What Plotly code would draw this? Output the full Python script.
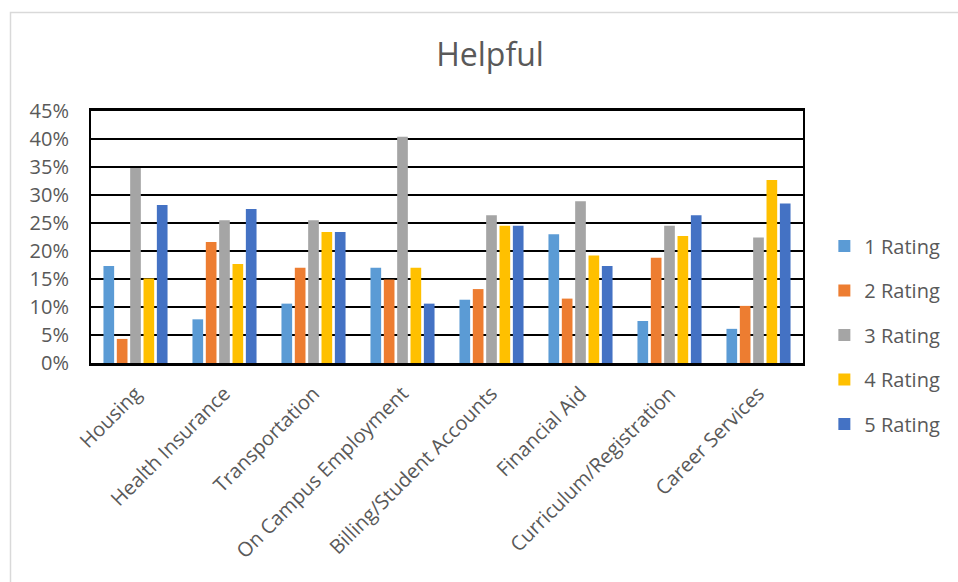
import plotly.graph_objects as go

# Survey categories and the share of responses for each rating (fractions)
categories = [
    "Housing",
    "Health Insurance",
    "Transportation",
    "On Campus Employment",
    "Billing/Student Accounts",
    "Financial Aid",
    "Curriculum/Registration",
    "Career Services",
]
rating_1 = [0.173, 0.078, 0.106, 0.170, 0.113, 0.230, 0.075, 0.061]
rating_2 = [0.043, 0.216, 0.170, 0.149, 0.132, 0.115, 0.188, 0.102]
rating_3 = [0.348, 0.255, 0.255, 0.404, 0.264, 0.289, 0.245, 0.224]
rating_4 = [0.151, 0.177, 0.234, 0.170, 0.245, 0.192, 0.227, 0.327]
rating_5 = [0.282, 0.275, 0.234, 0.106, 0.245, 0.173, 0.264, 0.285]

series_names = ["1 Rating", "2 Rating", "3 Rating", "4 Rating", "5 Rating"]
series_values = [rating_1, rating_2, rating_3, rating_4, rating_5]
series_colors = ["#5B9BD5", "#ED7D31", "#A5A5A5", "#FFC000", "#4472C4"]

FONT = "Open Sans, Segoe UI, DejaVu Sans, sans-serif"
TEXT = "#595959"

fig = go.Figure()
for name, vals, color in zip(series_names, series_values, series_colors):
    fig.add_trace(
        go.Bar(
            name=name,
            x=categories,
            y=vals,
            marker=dict(color=color, line=dict(width=0)),
            legendgroup=name,
        )
    )

fig.update_layout(
    width=958,
    height=582,
    barmode="group",
    bargap=0.25,
    bargroupgap=0.2,
    paper_bgcolor="white",
    plot_bgcolor="white",
    margin=dict(l=91, r=155, t=111, b=219, autoexpand=False),
    font=dict(family=FONT, color=TEXT),
    title=dict(
        text="Helpful",
        x=490 / 958,
        xanchor="center",
        xref="container",
        y=1 - 55 / 582,
        yanchor="middle",
        font=dict(family=FONT, size=32, color=TEXT),
    ),
    legend=dict(
        x=1.03,
        xanchor="left",
        y=0.111,
        yanchor="middle",
        font=dict(family=FONT, size=20, color=TEXT),
        traceorder="grouped",
        tracegroupgap=15.5,
        bgcolor="rgba(0,0,0,0)",
    ),
    showlegend=True,
)

fig.update_yaxes(
    range=[0, 0.45],
    dtick=0.05,
    tickformat=".0%",
    showgrid=True,
    gridcolor="black",
    gridwidth=2,
    showline=True,
    linecolor="black",
    linewidth=2,
    mirror=True,
    zeroline=False,
    ticks="",
    ticklabelstandoff=16,
    tickfont=dict(family=FONT, size=20, color=TEXT),
)
fig.update_xaxes(
    tickangle=-45,
    showline=True,
    linecolor="black",
    linewidth=3,
    mirror=True,
    ticks="",
    ticklabelstandoff=8,
    tickfont=dict(family=FONT, size=20, color=TEXT),
)

# light outer frame of the chart area
fig.add_shape(
    type="rect",
    xref="paper",
    yref="paper",
    x0=(10.5 - 91) / 712,
    x1=2.0,
    y0=-2.0,
    y1=(363 - 12.5) / 252,
    line=dict(color="#D9D9D9", width=1.5),
    fillcolor="rgba(0,0,0,0)",
    layer="below",
)

fig.write_html("out.html")
